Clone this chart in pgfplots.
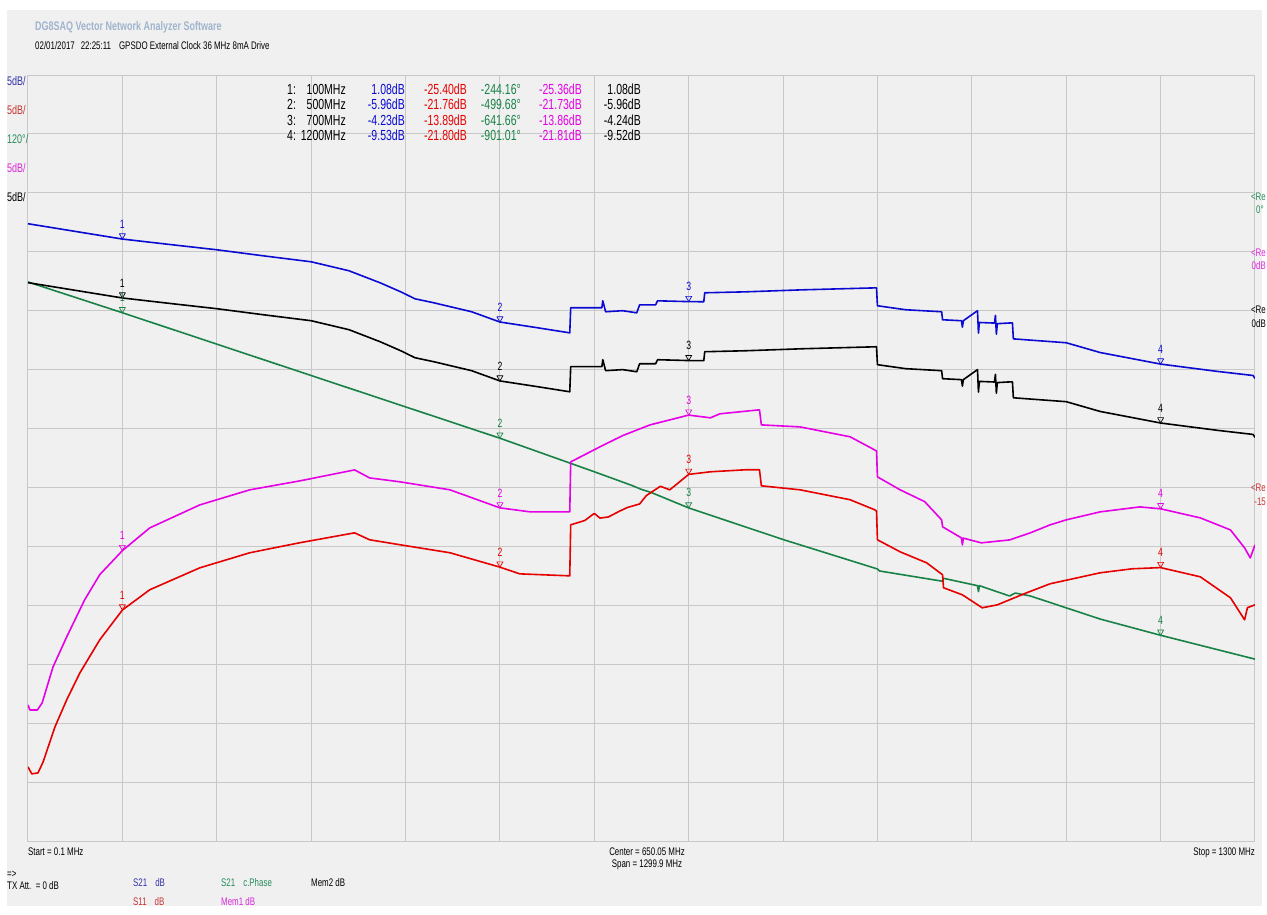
\documentclass[border=0pt]{standalone}
\usepackage{pgfplots}
\usepackage{pgfplotstable}
\pgfplotsset{compat=1.18}
\usepackage{fontspec}
\setmainfont{Liberation Sans}[FakeStretch=0.72]
\definecolor{bg}{RGB}{240,240,240}
\definecolor{gridc}{RGB}{200,200,200}
\definecolor{tblue}{RGB}{10,10,210}
\definecolor{tred}{RGB}{230,0,0}
\definecolor{tgreen}{RGB}{25,130,70}
\definecolor{tmag}{RGB}{230,0,230}
\definecolor{hdr}{RGB}{160,180,205}
\definecolor{lblue}{RGB}{50,50,170}
\definecolor{lred}{RGB}{200,50,50}
\definecolor{lgreen}{RGB}{40,140,90}
\definecolor{lmag}{RGB}{220,40,220}
\newcommand{\fs}[1]{\fontsize{#1}{#1}\selectfont}

% S21 dB (also Mem2 trace)
\pgfplotstableread{
f v
0 2.38
50 1.73
100 1.08
150 0.62
200 0.17
250 -0.35
300 -0.85
340 -1.61
373 -2.63
395 -3.40
410 -3.99
430 -4.33
470 -5.09
500 -5.96
540 -6.45
574 -6.88
575 -4.75
608 -4.75
609 -4.16
612 -5.09
630 -5.00
645 -5.18
648 -4.50
665 -4.50
667 -4.16
700 -4.23
716 -4.24
717 -3.48
760 -3.40
820 -3.23
899 -3.06
900 -4.58
930 -4.92
968 -5.09
969 -5.77
989 -5.85
990 -6.40
991 -5.85
1006 -5.00
1007 -6.90
1008 -6.00
1024 -6.05
1025 -5.40
1026 -7.00
1027 -6.10
1043 -6.03
1044 -7.39
1100 -7.72
1136 -8.55
1200 -9.53
1260 -10.15
1298 -10.50
1300 -10.75
}\datS

% S11 dB
\pgfplotstableread{
f v
0 -38.71
4 -39.30
10.6 -39.22
16 -38.29
28.6 -35.31
41 -33.02
55 -30.73
76 -27.93
100 -25.40
129 -23.68
182 -21.82
235 -20.54
288 -19.69
346 -18.85
362 -19.44
394 -19.86
447 -20.54
500 -21.76
521 -22.33
574 -22.50
575 -18.17
590 -17.8
600 -17.2
606 -17.6
615 -17.5
627 -17.0
635 -16.7
648 -16.4
655 -15.7
670 -14.9
680 -15.2
700 -13.89
723 -13.67
760 -13.50
775 -13.50
777 -14.86
818 -15.20
871 -16.04
897 -16.89
899 -17.0
900 -19.44
924 -20.46
952 -21.39
969 -22.41
970 -23.51
990 -24.11
1011 -25.21
1027 -24.96
1040 -24.53
1058 -23.94
1083 -23.17
1136 -22.24
1170 -21.90
1200 -21.80
1242 -22.58
1274 -24.36
1289 -26.23
1292 -25.2
1300 -24.96
}\datR

% Mem1 dB
\pgfplotstableread{
f v
0 -38.45
2 -38.88
10 -38.88
15 -38.28
26.5 -35.23
41 -32.68
60 -29.54
76 -27.4
100 -25.36
129 -23.43
182 -21.48
235 -20.20
288 -19.44
346 -18.51
362 -19.19
394 -19.52
447 -20.20
500 -21.73
532 -22.07
574 -22.07
575 -17.83
606 -16.55
630 -15.6
659 -14.69
700 -13.86
723 -14.09
733 -13.75
775 -13.41
777 -14.69
818 -14.86
871 -15.70
897 -16.81
899 -16.9
900 -19.10
924 -20.20
950 -21.2
968 -22.75
969 -23.34
989 -24.28
990 -24.87
991 -24.3
1010 -24.70
1040 -24.45
1062 -23.85
1083 -23.17
1100 -22.75
1136 -22.07
1178 -21.65
1200 -21.81
1242 -22.58
1274 -23.60
1289 -25.13
1295 -25.98
1300 -24.87
}\datM

% S21 continuous phase (deg)
\pgfplotstableread{
f v
0 -181.5
100 -244.16
300 -372
500 -499.68
600 -568
640 -596
650 -604
660 -610
700 -641.66
800 -706
900 -766
902 -770
969 -791
970 -785
1006 -800
1007 -812
1008 -800
1040 -821
1046 -815
1062 -821
1136 -868
1200 -901.01
1300 -949.6
}\datP

\pgfplotsset{mk/.style={only marks, mark=triangle, mark size=3.5pt,
  mark options={yshift=3.5pt, rotate=180, line width=0.7pt, solid, fill=none},
  nodes near coords, point meta=explicit symbolic,
  nodes near coords style={font=\fs{12}, anchor=south, yshift=7pt, inner sep=0pt}}}

\begin{document}
\begin{tikzpicture}
\useasboundingbox (0,0) rectangle (1267pt,-914pt);
\fill[white] (0,0) rectangle (1267pt,-914pt);
\fill[bg] (7pt,-10pt) rectangle (1262pt,-906pt);
\begin{axis}[at={(28pt,-841pt)}, anchor=south west, scale only axis,
  width=1227pt, height=766pt,
  xmin=0, xmax=1300, ymin=0, ymax=13,
  xtick={0,100,...,1300}, ytick={0,1,...,13},
  xticklabels={}, yticklabels={}, major tick length=0pt,
  grid=major, major grid style={gridc, line width=1pt},
  axis line style={gridc, line width=1pt},
  every axis plot/.append style={line width=1.6pt, line join=round}]
\addplot[tgreen] table[x=f, y expr=\thisrow{v}/120+11] \datP;
\addplot[tred] table[x=f, y expr=\thisrow{v}/5+9] \datR;
\addplot[tmag] table[x=f, y expr=\thisrow{v}/5+10] \datM;
\addplot[black] table[x=f, y expr=\thisrow{v}/5+9] \datS;
\addplot[tblue] table[x=f, y expr=\thisrow{v}/5+10] \datS;
% markers
\addplot[mk, tblue] table[x index=0, y expr=\thisrowno{1}/5+10, meta index=2] {
f v m
100 1.08 1
500 -5.96 2
700 -4.23 3
1200 -9.53 4
};
\addplot[mk, black] table[x index=0, y expr=\thisrowno{1}/5+9, meta index=2] {
f v m
100 1.08 1
500 -5.96 2
700 -4.24 3
1200 -9.52 4
};
\addplot[mk, tred] table[x index=0, y expr=\thisrowno{1}/5+9, meta index=2] {
f v m
100 -25.40 1
500 -21.76 2
700 -13.89 3
1200 -21.80 4
};
\addplot[mk, tmag] table[x index=0, y expr=\thisrowno{1}/5+10, meta index=2] {
f v m
100 -25.36 1
500 -21.73 2
700 -13.86 3
1200 -21.81 4
};
\addplot[mk, tgreen] table[x index=0, y expr=\thisrowno{1}/120+11, meta index=2] {
f v m
100 -244.16 1
500 -499.68 2
700 -641.66 3
1200 -901.01 4
};
\end{axis}
% header
\node[anchor=base west, font=\fs{12.5}\bfseries, text=hdr, inner sep=0pt] at (35pt,-30pt) {DG8SAQ Vector Network Analyzer Software};
\node[anchor=base west, font=\fs{11}, inner sep=0pt] at (35pt,-49pt) {02/01/2017\hspace{6pt}22:25:11\hspace{8pt}GPSDO External Clock 36 MHz 8mA Drive};
% left scale labels
\node[anchor=base west, font=\fs{12.5}, text=lblue, inner sep=0pt] at (7pt,-85pt) {5dB/};
\node[anchor=base west, font=\fs{12.5}, text=lred, inner sep=0pt] at (7pt,-114pt) {5dB/};
\node[anchor=base west, font=\fs{12.5}, text=lgreen, inner sep=0pt] at (7pt,-143pt) {120°/};
\node[anchor=base west, font=\fs{12.5}, text=lmag, inner sep=0pt] at (7pt,-172pt) {5dB/};
\node[anchor=base west, font=\fs{12.5}, text=black, inner sep=0pt] at (7pt,-201pt) {5dB/};
% marker table
\foreach \yy/\n/\fq/\a/\b/\c/\d/\e in {
 94/1/100MHz/1.08dB/-25.40dB/-244.16°/-25.36dB/1.08dB,
 109/2/500MHz/-5.96dB/-21.76dB/-499.68°/-21.73dB/-5.96dB,
 125/3/700MHz/-4.23dB/-13.89dB/-641.66°/-13.86dB/-4.24dB,
 140/4/1200MHz/-9.53dB/-21.80dB/-901.01°/-21.81dB/-9.52dB}{
 \node[anchor=base west, font=\fs{14.6}, inner sep=0pt] at (287pt,-\yy pt) {\n:};
 \node[anchor=base east, font=\fs{14.6}, inner sep=0pt] at (346pt,-\yy pt) {\fq};
 \node[anchor=base east, font=\fs{14.6}, text=tblue, inner sep=0pt] at (405pt,-\yy pt) {\a};
 \node[anchor=base east, font=\fs{14.6}, text=tred, inner sep=0pt] at (467pt,-\yy pt) {\b};
 \node[anchor=base east, font=\fs{14.6}, text=tgreen, inner sep=0pt] at (521pt,-\yy pt) {\c};
 \node[anchor=base east, font=\fs{14.6}, text=tmag, inner sep=0pt] at (582pt,-\yy pt) {\d};
 \node[anchor=base east, font=\fs{14.6}, text=black, inner sep=0pt] at (641pt,-\yy pt) {\e};
}
% right reference labels (fit inside the page edge)
\node[anchor=base east, font=\fs{11}, text=lgreen, inner sep=0pt] at (1266pt,-200pt) {<Re};
\node[anchor=base west, font=\fs{11}, text=lgreen, inner sep=0pt] at (1256pt,-213pt) {0°};
\node[anchor=base east, font=\fs{11}, text=lmag, inner sep=0pt] at (1266pt,-256pt) {<Re};
\node[anchor=base east, font=\fs{11}, text=lmag, inner sep=0pt] at (1266pt,-269pt) {0dB};
\node[anchor=base east, font=\fs{11}, text=black, inner sep=0pt] at (1266pt,-313pt) {<Re};
\node[anchor=base east, font=\fs{11}, text=black, inner sep=0pt] at (1266pt,-327pt) {0dB};
\node[anchor=base east, font=\fs{11}, text=lred, inner sep=0pt] at (1266pt,-491pt) {<Re};
\node[anchor=base east, font=\fs{11}, text=lred, inner sep=0pt] at (1266pt,-505pt) {-15};
% bottom labels
\node[anchor=base west, font=\fs{11}, inner sep=0pt] at (28pt,-855pt) {Start = 0.1 MHz};
\node[anchor=base, font=\fs{11}, inner sep=0pt] at (647pt,-855pt) {Center = 650.05 MHz};
\node[anchor=base, font=\fs{11}, inner sep=0pt] at (647pt,-867pt) {Span = 1299.9 MHz};
\node[anchor=base east, font=\fs{11}, inner sep=0pt] at (1255pt,-855pt) {Stop = 1300 MHz};
\node[anchor=base west, font=\fs{11}, inner sep=0pt] at (7pt,-877pt) {=>};
\node[anchor=base west, font=\fs{11}, inner sep=0pt] at (7pt,-889pt) {TX Att.\ \ = 0 dB};
\node[anchor=base west, font=\fs{11}, text=lblue, inner sep=0pt] at (133pt,-886pt) {S21\hspace{8pt}dB};
\node[anchor=base west, font=\fs{11}, text=lred, inner sep=0pt] at (133pt,-905pt) {S11\hspace{8pt}dB};
\node[anchor=base west, font=\fs{11}, text=lgreen, inner sep=0pt] at (221pt,-886pt) {S21\hspace{8pt}c.Phase};
\node[anchor=base west, font=\fs{11}, text=lmag, inner sep=0pt] at (221pt,-905pt) {Mem1 dB};
\node[anchor=base west, font=\fs{11}, text=black, inner sep=0pt] at (311pt,-886pt) {Mem2 dB};
\end{tikzpicture}
\end{document}
